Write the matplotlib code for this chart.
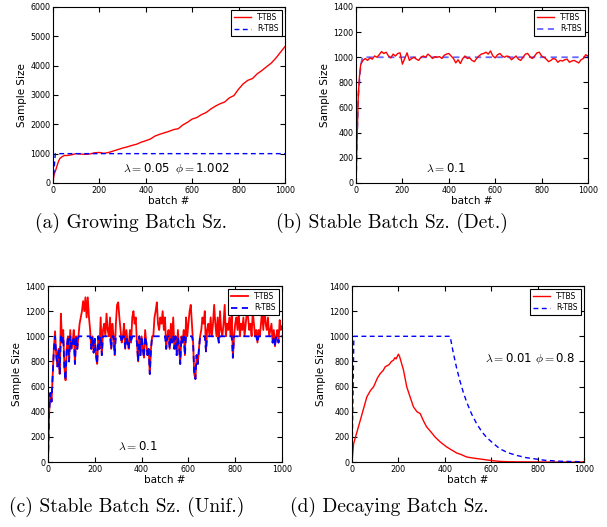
import matplotlib
matplotlib.use("Agg")
import matplotlib.pyplot as plt

# (a) growing batch size
a_red_x = [0, 2, 5, 10, 15, 20, 25, 30, 40, 50, 60, 80, 100, 120, 140, 160, 180, 200,
           220, 240, 260, 280, 300, 320, 340, 360, 380, 400, 420, 440, 460, 480, 500,
           520, 540, 560, 580, 600, 620, 640, 660, 680, 700, 720, 740, 760, 780, 800,
           820, 840, 860, 880, 900, 920, 940, 960, 980, 1000]
a_red_y = [0, 150, 300, 400, 520, 650, 760, 840, 900, 940, 935, 960, 1000, 985, 975,
           990, 1030, 1040, 1010, 1040, 1090, 1140, 1190, 1230, 1280, 1320, 1390, 1440,
           1500, 1600, 1660, 1710, 1760, 1820, 1850, 1980, 2070, 2180, 2230, 2330, 2400,
           2520, 2620, 2700, 2760, 2900, 2980, 3200, 3380, 3500, 3560, 3720, 3830, 3960,
           4080, 4250, 4450, 4650]
a_blue_x = [0, 10, 1000]
a_blue_y = [0, 1000, 1000]

# (b) stable batch size, deterministic
b_red_x = [0, 5, 10, 15, 20, 25, 30] + list(range(40, 1001, 10))
b_red_y = [0, 380, 700, 850, 940, 960, 975,
           990, 975, 995, 985, 1010, 1000, 1020, 1045, 1030, 1040,
           1010, 995, 1025, 1010, 1030, 1035, 945, 990, 1035, 975,
           990, 1000, 985, 975, 1000, 1010, 1000, 1025, 1010, 990,
           1005, 1000, 1005, 990, 1015, 1025, 1030, 1010, 990, 955,
           980, 950, 990, 1010, 990, 995, 975, 965, 990, 1010,
           1025, 1030, 1040, 1025, 1050, 1010, 995, 1020, 1030, 1010,
           1000, 1010, 1005, 980, 995, 1010, 985, 975, 1000, 1025,
           1030, 1005, 990, 1010, 1035, 1040, 1010, 1000, 985, 965,
           975, 990, 985, 960, 975, 970, 980, 985, 960, 970,
           975, 965, 955, 980, 990, 1020, 1010]
b_blue_x = [0, 5, 10, 20, 28, 1000]
b_blue_y = [0, 400, 700, 930, 1000, 1000]

# (c) stable batch size, uniform (x = 0, 5, ..., 1000)
c_x = list(range(0, 1001, 5))
c_red_y = [0, 400, 550, 480, 700, 900, 1040, 850, 760, 900,
           700, 1180, 950, 1050, 750, 650, 900, 1000, 800, 1050,
           900, 950, 1050, 780, 1000, 900, 1000, 1100, 1150, 1200,
           1280, 1200, 1310, 1150, 1310, 1150, 1050, 900, 1000, 870,
           980, 850, 780, 1000, 900, 1150, 850, 1050, 1100, 1000,
           1180, 1050, 1000, 1150, 900, 1100, 1000, 850, 1100, 1250,
           1270, 1150, 1050, 950, 1000, 1100, 900, 1050, 950, 900,
           1050, 950, 1150, 1200, 1100, 1150, 950, 800, 1000, 850,
           1000, 900, 830, 1050, 950, 850, 900, 700, 900, 1000,
           1000, 1150, 1200, 1270, 1100, 1050, 1150, 1100, 1200, 1050,
           1150, 900, 1000, 1050, 900, 1100, 950, 1150, 900, 1000,
           850, 1050, 920, 780, 1000, 950, 1050, 850, 1150, 1000,
           1100, 1200, 1250, 1100, 950, 700, 660, 850, 780, 900,
           1000, 1050, 1150, 1100, 1200, 880, 1050, 1100, 1000, 1150,
           1000, 1100, 1250, 1100, 1000, 1150, 950, 1200, 1050, 1000,
           1100, 1250, 1000, 1100, 1050, 1150, 1000, 1200, 830, 1000,
           1100, 1150, 1050, 1200, 1000, 1100, 1050, 1150, 1000, 1100,
           1200, 1150, 1050, 1100, 1000, 1200, 1100, 1000, 1050, 950,
           1050, 1000, 1100, 1200, 1050, 1250, 1100, 1050, 1150, 1000,
           1050, 1100, 950, 1050, 920, 1000, 1050, 950, 1130, 1050,
           1080]
c_blue_y = [0, 400, 550, 480, 700, 900, 1000, 850, 760, 900,
            700, 1000, 950, 1000, 750, 650, 900, 1000, 800, 1000,
            900, 950, 1000, 780, 1000, 900, 1000, 1000, 1000, 1000,
            1000, 1000, 1000, 1000, 1000, 1000, 1000, 900, 1000, 870,
            980, 850, 780, 1000, 900, 1000, 850, 1000, 1000, 1000,
            1000, 1000, 1000, 1000, 900, 1000, 1000, 850, 1000, 1000,
            1000, 1000, 1000, 950, 1000, 1000, 900, 1000, 950, 900,
            1000, 950, 1000, 1000, 1000, 1000, 950, 800, 1000, 850,
            1000, 900, 830, 1000, 950, 850, 900, 700, 900, 1000,
            1000, 1000, 1000, 1000, 1000, 1000, 1000, 1000, 1000, 1000,
            1000, 900, 1000, 1000, 900, 1000, 950, 1000, 900, 1000,
            850, 1000, 920, 780, 1000, 950, 1000, 850, 1000, 1000,
            1000, 1000, 1000, 1000, 950, 700, 660, 850, 780, 900,
            1000, 1000, 1000, 1000, 1000, 880, 1000, 1000, 1000, 1000,
            1000, 1000, 1000, 1000, 1000, 1000, 950, 1000, 1000, 1000,
            1000, 1000, 1000, 1000, 1000, 1000, 1000, 1000, 830, 1000,
            1000, 1000, 1000, 1000, 1000, 1000, 1000, 1000, 1000, 1000,
            1000, 1000, 1000, 1000, 1000, 1000, 1000, 1000, 1000, 950,
            1000, 1000, 1000, 1000, 1000, 1000, 1000, 1000, 1000, 1000,
            1000, 1000, 950, 1000, 920, 1000, 1000, 950, 1000, 1000,
            1000]

# (d) decaying batch size
d_red_x = [0, 7, 20, 40, 64, 80, 93, 110, 122, 135, 143, 160, 170, 179, 185, 190,
           200, 205, 222, 236, 250, 265, 280, 294, 310, 322, 340, 358, 380, 408, 430,
           451, 470, 494, 520, 552, 595, 637, 680, 750, 850, 1000]
d_red_y = [0, 146, 230, 360, 518, 570, 598, 670, 704, 730, 757, 775, 800, 810, 830,
           820, 858, 840, 731, 598, 520, 438, 400, 385, 320, 279, 240, 199, 160, 120,
           95, 72, 60, 40, 32, 24, 13, 5, 2, 1, 0, 0]
d_blue_x = [0, 8, 423, 435, 451, 466, 480, 494, 515, 537, 560, 580, 610, 637, 670,
            709, 750, 781, 830, 900, 1000]
d_blue_y = [0, 1000, 1000, 883, 747, 640, 553, 478, 384, 306, 240, 196, 146, 106,
            75, 53, 35, 27, 14, 6, 2]

captions = ["(a) Growing Batch Sz.", "(b) Stable Batch Sz. (Det.)",
            "(c) Stable Batch Sz. (Unif.)", "(d) Decaying Batch Sz."]

plt.rcParams["mathtext.fontset"] = "cm"
plt.rcParams["xtick.direction"] = "in"
plt.rcParams["ytick.direction"] = "in"
plt.rcParams["xtick.top"] = True
plt.rcParams["ytick.right"] = True
plt.rcParams["xtick.major.size"] = 3.5
plt.rcParams["ytick.major.size"] = 3.5


def setup(ax, ymax, ystep, order=(0, 1)):
    ax.set_xlim(0, 1000)
    ax.set_ylim(0, ymax)
    ax.set_xticks(range(0, 1001, 200))
    ax.set_yticks(range(0, ymax + 1, ystep))
    ax.tick_params(labelsize=5.8, pad=2)
    ax.set_xlabel("batch #", fontsize=7.5, labelpad=1)
    ax.set_ylabel("Sample Size", fontsize=7.5, labelpad=2)
    handles, labels = ax.get_legend_handles_labels()
    leg = ax.legend([handles[i] for i in order], [labels[i] for i in order],
                    loc="upper right", fontsize=5.5, fancybox=False, framealpha=1,
                    handlelength=2.2, borderaxespad=0.4, borderpad=0.4,
                    labelspacing=0.3)
    leg.get_frame().set_edgecolor("black")
    leg.get_frame().set_linewidth(0.8)


fig = plt.figure(figsize=(6.07, 5.27), dpi=100)
ax_a = fig.add_axes([0.0873, 0.6528, 0.3822, 0.334])
ax_b = fig.add_axes([0.5865, 0.6528, 0.3822, 0.334])
ax_c = fig.add_axes([0.0791, 0.1233, 0.3855, 0.334])
ax_d = fig.add_axes([0.5799, 0.1233, 0.3822, 0.334])

dash = (0, (3.5, 2.5))
ann = 8.5

ax_a.plot(a_red_x, a_red_y, color="red", lw=1.0, label="T-TBS")
ax_a.plot(a_blue_x, a_blue_y, color="blue", lw=1.0, ls=dash, label="R-TBS")
setup(ax_a, 6000, 1000)
ax_a.text(300, 490, r"$\lambda=$0.05", fontsize=ann, va="center")
ax_a.text(525, 490, r"$\phi=$1.002", fontsize=ann, va="center")

ax_b.plot(b_blue_x, b_blue_y, color="blue", lw=1.3, ls=dash, alpha=0.6, label="R-TBS")
ax_b.plot(b_red_x, b_red_y, color="red", lw=1.0, label="T-TBS")
setup(ax_b, 1400, 200, order=(1, 0))
ax_b.text(300, 118, r"$\lambda=$0.1", fontsize=ann, va="center")

ax_c.plot(c_x, c_red_y, color="red", lw=1.3, label="T-TBS")
ax_c.plot(c_x, c_blue_y, color="blue", lw=1.3, ls=dash, label="R-TBS")
setup(ax_c, 1400, 200)
ax_c.text(300, 125, r"$\lambda=$0.1", fontsize=ann, va="center")

ax_d.plot(d_red_x, d_red_y, color="red", lw=1.0, label="T-TBS")
ax_d.plot(d_blue_x, d_blue_y, color="blue", lw=1.0, ls=dash, label="R-TBS")
setup(ax_d, 1400, 200)
ax_d.text(573, 823, r"$\lambda=$0.01", fontsize=ann, va="center")
ax_d.text(790, 823, r"$\phi=$0.8", fontsize=ann, va="center")

cap_pos = [(131, 223), (392, 223), (127, 507), (389, 507)]
for (px, py), cap in zip(cap_pos, captions):
    fig.text(px / 607, 1 - py / 527, cap, family="cmr10",
             fontsize=14, ha="center", va="center")

fig.savefig("out.png", dpi=100)
